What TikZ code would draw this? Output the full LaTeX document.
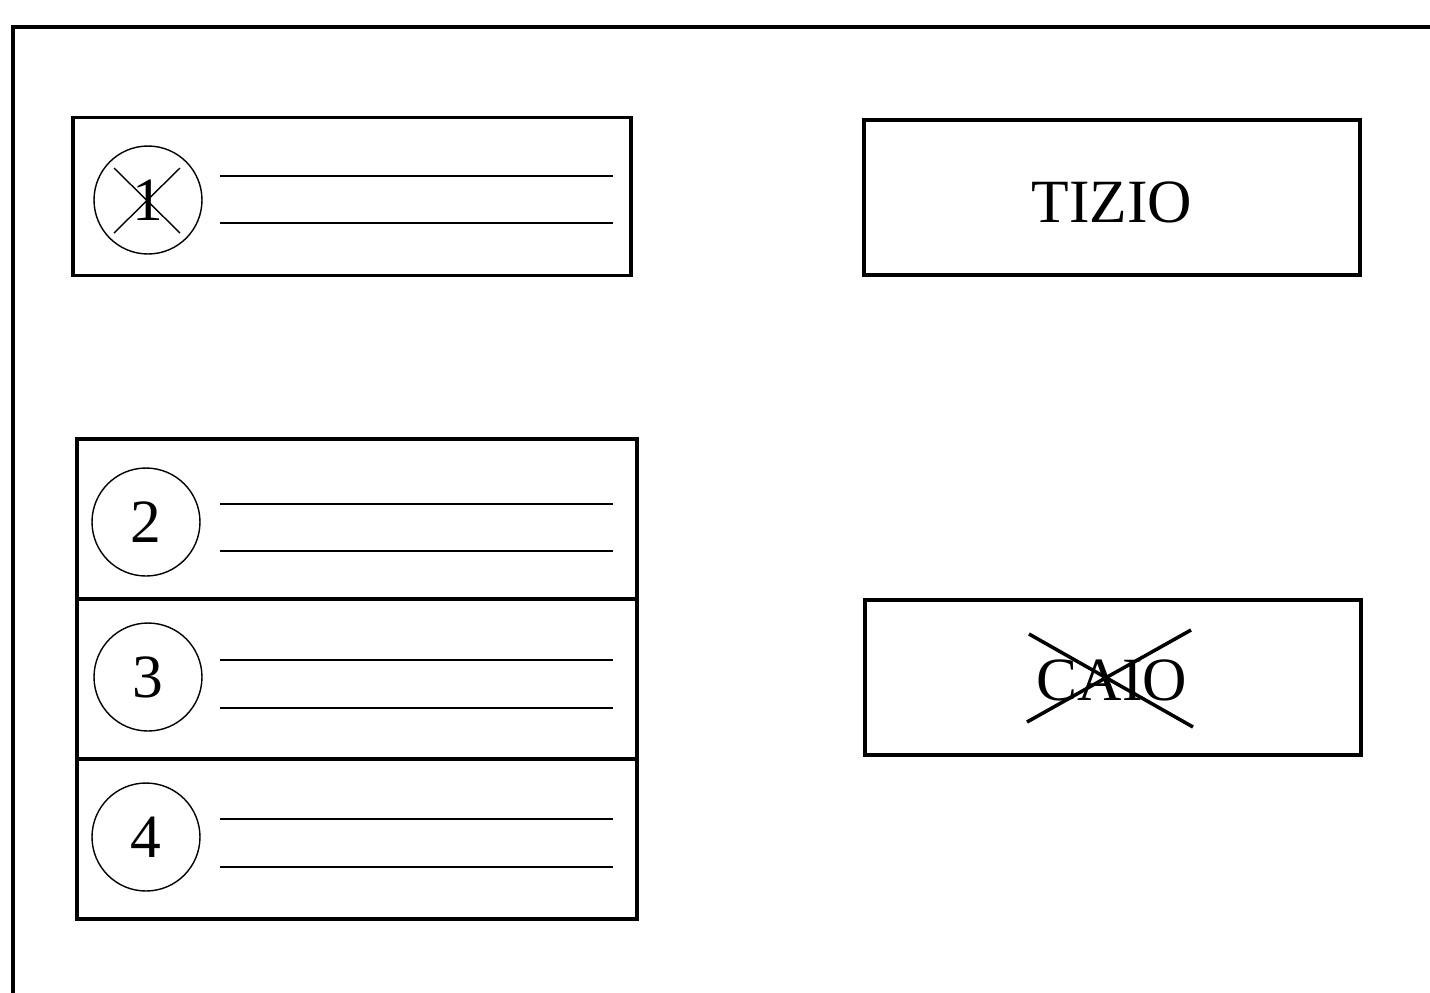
\documentclass[tikz,border=0pt]{standalone}
\usepackage{fontspec}
\setmainfont{Liberation Serif}
\usepackage{tikz}

\tikzset{
	card/.style={shape=rectangle,draw=black,line width=2pt,inner sep=0pt,
		minimum width=11.16cm,minimum height=3.16cm},
	namebox/.style={shape=rectangle,draw=black,line width=2pt,inner sep=0pt,
		minimum width=9.92cm,minimum height=3.1cm},
	nametext/.style={font=\fontsize{35}{40}\selectfont},
	row/.style={shape=rectangle,draw=black,line width=2pt,inner sep=0pt,
		minimum width=11.2cm,minimum height=3.2cm},
	num/.style={shape=circle,draw=black,line width=0.8pt,inner sep=0pt,
		minimum size=2.16cm,font=\fontsize{35}{40}\selectfont},
	rule/.style={line width=0.85pt},
	cross/.style={line width=0.8pt},
	bigcross/.style={line width=2pt}
}

\begin{document}
\begin{tikzpicture}[x=0.02cm,y=-0.02cm]
	\useasboundingbox (0,0) rectangle (1430,992);

	% outer frame
	\coordinate (ftr) at (1440,27);
	\coordinate (ftl) at (13,27);
	\coordinate (fbl) at (13,1000);
	\draw[line width=2pt] (ftr) -- (ftl) -- (fbl);

	% struck card
	\node[card] (c1) at (352,196.5) {};
	\node[num] (n1) at (148,200) {1};
	\draw[rule] (220,176) -- (613,176);
	\draw[rule] (220,223) -- (613,223);
	\draw[cross] (114,168) -- (180,233);
	\draw[cross] (180,168) -- (114,233);

	% names
	\node[namebox] (tizio) at (1112,197.5) {};
	\node[nametext] (tiziotext) at (1112,202) {TIZIO};
	\node[namebox] (caio) at (1113,677.5) {};
	\node[nametext] (caiotext) at (1112,680) {CAIO};
	\draw[bigcross] (1029,634) -- (1193,727);
	\draw[bigcross] (1027,722) -- (1191,630);

	% list of cards
	\node[row] (r2) at (357,519) {};
	\node[row] (r3) at (357,679) {};
	\node[row] (r4) at (357,839) {};

	\node[num] (n2) at (146,522) {2};
	\node[num] (n3) at (148,677) {3};
	\node[num] (n4) at (146,837) {4};

	\draw[rule] (220,504) -- (613,504);
	\draw[rule] (220,551) -- (613,551);
	\draw[rule] (220,660) -- (613,660);
	\draw[rule] (220,708) -- (613,708);
	\draw[rule] (220,819) -- (613,819);
	\draw[rule] (220,867) -- (613,867);
\end{tikzpicture}
\end{document}
